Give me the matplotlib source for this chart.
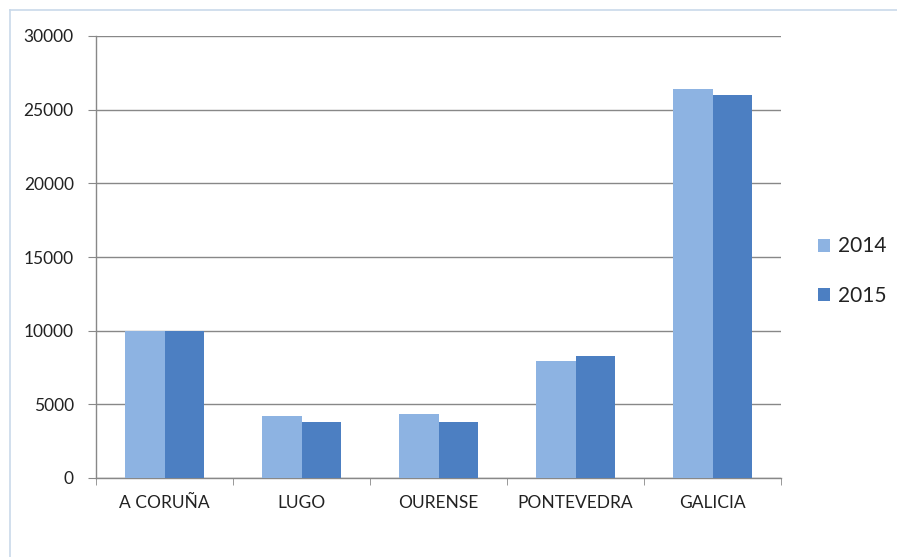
import matplotlib
matplotlib.use("Agg")
import matplotlib.pyplot as plt
import numpy as np
from matplotlib.lines import Line2D

categories = ["A CORUÑA", "LUGO", "OURENSE", "PONTEVEDRA", "GALICIA"]
series_names = ["2014", "2015"]
values_2014 = [10010, 4210, 4320, 7940, 26400]
values_2015 = [10000, 3820, 3820, 8280, 26000]
yticks = [0, 5000, 10000, 15000, 20000, 25000, 30000]

plt.rcParams['font.family'] = ['Lato', 'DejaVu Sans']

fig = plt.figure(figsize=(8.97, 5.57), dpi=100)
ax = fig.add_axes([96/897, 1-478/557, (781-96)/897, (478-36)/557])

x = np.arange(len(categories))
w = 0.285
c14 = "#8DB3E2"
c15 = "#4C7FC2"
b1 = ax.bar(x - w/2, values_2014, w, color=c14, label=series_names[0], zorder=3)
b2 = ax.bar(x + w/2, values_2015, w, color=c15, label=series_names[1], zorder=3)

ax.set_xlim(-0.5, len(categories) - 0.5)
ax.set_ylim(0, 30000)
ax.set_yticks(yticks)
ax.set_yticklabels([str(t) for t in yticks], fontsize=12.5, color="#222222")
ax.set_xticks(x)
ax.set_xticklabels(categories, fontsize=12.5, color="#222222")
ax.set_xticks(np.arange(len(categories) + 1) - 0.5, minor=True)
ax.tick_params(axis='x', which='major', length=0, pad=12)
ax.tick_params(axis='x', which='minor', length=5, color="#888888", direction='out')
ax.tick_params(axis='y', length=6, color="#888888", pad=10)
ax.yaxis.grid(True, color="#888888", linewidth=1.0, zorder=0)
ax.set_axisbelow(True)
for s in ["top", "right"]:
    ax.spines[s].set_visible(False)
for s in ["left", "bottom"]:
    ax.spines[s].set_color("#888888")
    ax.spines[s].set_linewidth(1.0)

leg = fig.legend(handles=[b1, b2], labels=series_names, loc="center left",
                 bbox_to_anchor=(818/897, 1-271/557), frameon=False,
                 fontsize=15, handlelength=0.58, handleheight=0.58,
                 handletextpad=0.4, labelspacing=1.4, borderpad=0,
                 borderaxespad=0)
for t in leg.get_texts():
    t.set_color("#222222")

# outer frame lines (light blue), left and top
fig.add_artist(Line2D([10/897, 10/897], [0, 1-10/557], color="#C9D9EA", lw=1.2, transform=fig.transFigure))
fig.add_artist(Line2D([10/897, 1], [1-10/557, 1-10/557], color="#C9D9EA", lw=1.2, transform=fig.transFigure))

fig.savefig("out.png", dpi=100)
